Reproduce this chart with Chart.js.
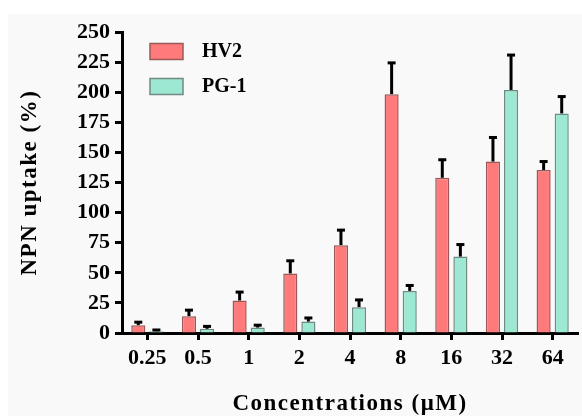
<!DOCTYPE html>
<html>
<head>
<meta charset="utf-8">
<script src="https://cdn.jsdelivr.net/npm/chart.js@4.4.1/dist/chart.umd.min.js"></script>
<style>
  html, body { margin: 0; padding: 0; background: #ffffff; width: 582px; height: 416px; overflow: hidden; }
  #wrap { position: absolute; left: 8px; top: 14px; width: 574px; height: 402px; background: #f9f9f9; }
  canvas { display: block; }
</style>
</head>
<body>
<div id="wrap"><canvas id="c" width="574" height="402"></canvas></div>
<script>
// ---- data ----
const categories = ['0.25', '0.5', '1', '2', '4', '8', '16', '32', '64'];
const hv2Values  = [6.5, 14, 27, 49.5, 73, 198.5, 129, 142.5, 135.5];
const hv2Errors  = [2.5, 5, 7, 10.5, 12.5, 26, 15, 20, 7];
const pg1Values  = [1.5, 3.5, 4.5, 9.5, 21.5, 35, 63.5, 202, 182.5];
const pg1Errors  = [1, 2, 2, 3, 6, 4.5, 10, 29, 14];
const seriesLabels = ['HV2', 'PG-1'];
const yTickMin = 0, yTickMax = 250, yTickStep = 25;

const SERIF = '"Liberation Serif", "Times New Roman", serif';

// error bars drawn through the chart's own scales
const errorBarPlugin = {
  id: 'errorBars',
  afterDatasetsDraw(chart) {
    const ctx = chart.ctx;
    const yScale = chart.scales.y;
    chart.data.datasets.forEach((ds, i) => {
      const meta = chart.getDatasetMeta(i);
      const errs = ds.errors || [];
      meta.data.forEach((bar, j) => {
        const v = ds.data[j];
        const e = errs[j] || 0;
        const x = bar.x;
        const yTop = bar.y;
        const yErr = yScale.getPixelForValue(v + e);
        ctx.save();
        ctx.strokeStyle = '#000';
        ctx.fillStyle = '#000';
        ctx.lineWidth = 3;
        ctx.beginPath();
        ctx.moveTo(x, yTop);
        ctx.lineTo(x, yErr);
        ctx.stroke();
        ctx.fillRect(x - 4, yErr - 1.5, 8, 3);
        ctx.restore();
      });
    });
  }
};

// legend drawn inside the plot area
const innerLegendPlugin = {
  id: 'innerLegend',
  afterDraw(chart) {
    const ctx = chart.ctx;
    const ca = chart.chartArea;
    ctx.save();
    ctx.font = 'bold 20px ' + SERIF;
    ctx.textBaseline = 'middle';
    ctx.textAlign = 'left';
    chart.data.datasets.forEach((ds, i) => {
      const bx = ca.left + 28;
      const by = ca.top + 11.3 + i * 35;
      ctx.fillStyle = ds.backgroundColor;
      ctx.fillRect(bx, by, 33, 16);
      ctx.strokeStyle = ds.borderColor;
      ctx.lineWidth = 1.5;
      ctx.strokeRect(bx, by, 33, 16);
      ctx.fillStyle = '#000';
      ctx.fillText(ds.label, ca.left + 80, by + 8.5);
    });
    ctx.restore();
  }
};

// letter-spaced axis titles
const spacedTitlePlugin = {
  id: 'spacedTitles',
  beforeDraw(chart) {
    ['x', 'y'].forEach(id => {
      const s = chart.scales[id];
      if (s && !s._spacedPatched) {
        const orig = s.drawTitle;
        s.drawTitle = function () {
          this.ctx.save();
          this.ctx.letterSpacing = '1.5px';
          orig.call(this);
          this.ctx.restore();
        };
        s._spacedPatched = true;
      }
    });
  }
};

new Chart(document.getElementById('c'), {
  type: 'bar',
  data: {
    labels: categories,
    datasets: [
      {
        label: seriesLabels[0],
        data: hv2Values,
        errors: hv2Errors,
        backgroundColor: '#ff7a7a',
        borderColor: '#9a5858',
        borderWidth: 1.5,
        categoryPercentage: 0.714,
        barPercentage: 0.78
      },
      {
        label: seriesLabels[1],
        data: pg1Values,
        errors: pg1Errors,
        backgroundColor: '#9de8d2',
        borderColor: '#6f8a82',
        borderWidth: 1.5,
        categoryPercentage: 0.714,
        barPercentage: 0.78
      }
    ]
  },
  options: {
    responsive: false,
    animation: false,
    devicePixelRatio: 1,
    layout: { padding: { top: 18, right: 4, left: 0, bottom: 0 } },
    plugins: {
      legend: { display: false },
      tooltip: { enabled: false }
    },
    scales: {
      x: {
        offset: true,
        grid: {
          offset: false,
          drawOnChartArea: false,
          drawTicks: true,
          tickLength: 7,
          tickWidth: 3,
          tickColor: '#000'
        },
        border: { display: true, color: '#000', width: 3 },
        ticks: {
          color: '#000',
          padding: 5,
          maxRotation: 0,
          autoSkip: false,
          font: { family: SERIF, size: 22, weight: 'bold' }
        },
        title: {
          display: true,
          text: 'Concentrations (\u03BCM)',
          color: '#000',
          padding: { top: 0, bottom: 0 },
          font: { family: SERIF, size: 23, weight: 'bold', lineHeight: 1 }
        },
        afterFit(scale) { scale.height = 83; }
      },
      y: {
        min: yTickMin,
        max: yTickMax,
        grid: {
          drawOnChartArea: false,
          drawTicks: true,
          tickLength: 7,
          tickWidth: 3,
          tickColor: '#000'
        },
        border: { display: true, color: '#000', width: 3 },
        ticks: {
          stepSize: yTickStep,
          color: '#000',
          padding: 5,
          font: { family: SERIF, size: 22, weight: 'bold' }
        },
        title: {
          display: true,
          text: 'NPN uptake (%)',
          color: '#000',
          padding: { top: 8, bottom: 0 },
          font: { family: SERIF, size: 23, weight: 'bold', lineHeight: 1.2 }
        },
        afterFit(scale) { scale.width = 114; }
      }
    }
  },
  plugins: [spacedTitlePlugin, errorBarPlugin, innerLegendPlugin]
});
</script>
</body>
</html>
